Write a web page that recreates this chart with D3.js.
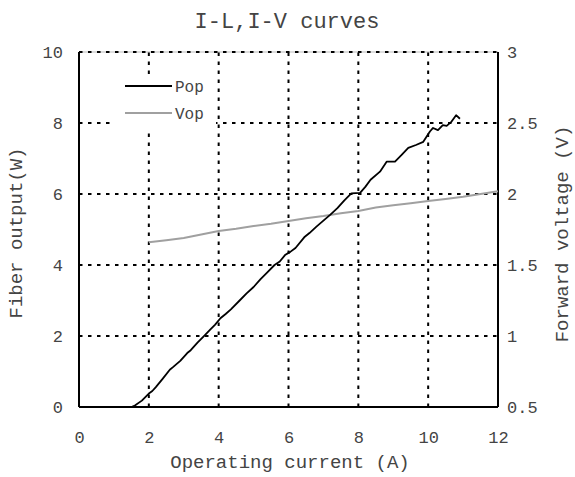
<!DOCTYPE html>
<html>
<head>
<meta charset="utf-8">
<script src="https://cdn.jsdelivr.net/npm/d3@7"></script>
<style>
  body { margin: 0; background: #fff; }
  text { font-family: "Liberation Mono", "Courier New", monospace; fill: #444; }
</style>
</head>
<body>
<div id="chart"></div>
<script>
var width = 575,
    height = 477;

// I-L curve (fiber output, W) vs operating current (A)
var popCurrent = [0, 0.5, 1.0, 1.5, 1.6, 1.8, 2.0, 2.1, 2.2, 2.4, 2.6, 2.7, 2.9, 3.1, 3.2, 3.4, 3.6, 3.75, 3.9, 4.05,
  4.2, 4.35, 4.6, 4.8, 5.0, 5.2, 5.4, 5.6, 5.75, 5.9, 6.05, 6.2, 6.45, 6.6, 6.8, 7.0, 7.2, 7.4, 7.6, 7.8,
  8.05, 8.2, 8.35, 8.62, 8.81, 9.05, 9.24, 9.43, 9.65, 9.86, 10.05, 10.14, 10.28, 10.42, 10.53, 10.67, 10.8, 10.91];
var popPower = [0, 0, 0, 0, 0.04, 0.18, 0.38, 0.45, 0.56, 0.8, 1.05, 1.13, 1.3, 1.52, 1.6, 1.82, 2.02, 2.17, 2.32, 2.5,
  2.62, 2.75, 3.0, 3.2, 3.38, 3.6, 3.8, 4.0, 4.1, 4.28, 4.37, 4.48, 4.78, 4.9, 5.08, 5.25, 5.42, 5.6, 5.82, 6.02,
  6.03, 6.2, 6.4, 6.63, 6.91, 6.91, 7.1, 7.3, 7.38, 7.47, 7.76, 7.86, 7.8, 7.94, 7.92, 8.04, 8.22, 8.12];

// I-V curve (forward voltage, V) vs operating current (A)
var vopCurrent = [2, 2.5, 3, 3.5, 4, 4.5, 5, 5.5, 6, 6.5, 7, 7.5, 8, 8.5, 9, 9.5, 10, 10.5, 11, 11.5, 12];
var vopVoltage = [1.66, 1.675, 1.69, 1.715, 1.74, 1.755, 1.775, 1.79, 1.81, 1.83, 1.845, 1.865, 1.88, 1.905, 1.92,
  1.935, 1.95, 1.965, 1.98, 2.0, 2.02];

var xTicks = [0, 2, 4, 6, 8, 10, 12];
var yLeftTicks = [0, 2, 4, 6, 8, 10];
var yRightTicks = [0.5, 1, 1.5, 2, 2.5, 3];

var svg = d3.select('#chart').append('svg')
    .attr('width', width).attr('height', height);

var x = d3.scaleLinear().domain([0, 12]).range([79, 498]);
var yL = d3.scaleLinear().domain([0, 10]).range([407, 52]);
var yR = d3.scaleLinear().domain([0.5, 3]).range([407, 52]);

// grid
var grid = svg.append('g').attr('class', 'grid');
grid.append('line')
    .attr('x1', x(0)).attr('x2', x(12)).attr('y1', yL(10)).attr('y2', yL(10))
    .attr('stroke', '#bbb').attr('stroke-width', 1);
grid.selectAll('.vgrid').data(xTicks.slice(1, -1)).enter().append('line')
    .attr('class', 'vgrid')
    .attr('x1', d => x(d)).attr('x2', d => x(d))
    .attr('y1', yL(0)).attr('y2', yL(10))
    .attr('stroke', '#000').attr('stroke-width', 2).attr('stroke-dasharray', '3.5,5.5');
grid.selectAll('.hgrid').data(yLeftTicks.slice(1)).enter().append('line')
    .attr('class', 'hgrid')
    .attr('x1', x(0)).attr('x2', x(12))
    .attr('y1', d => yL(d)).attr('y2', d => yL(d))
    .attr('stroke', '#000').attr('stroke-width', 2).attr('stroke-dasharray', '3.5,5.5');

// frame
svg.append('line').attr('x1', x(0)).attr('x2', x(0)).attr('y1', yL(0)).attr('y2', yL(10))
    .attr('stroke', '#000').attr('stroke-width', 2);
svg.append('line').attr('x1', x(12)).attr('x2', x(12)).attr('y1', yL(0)).attr('y2', yL(10))
    .attr('stroke', '#000').attr('stroke-width', 2);
svg.append('line').attr('x1', x(0)).attr('x2', x(12)).attr('y1', yL(0)).attr('y2', yL(0))
    .attr('stroke', '#000').attr('stroke-width', 2);

// axes (labels only)
var xAxis = svg.append('g').attr('transform', 'translate(0,' + 437 + ')')
    .call(d3.axisBottom(x).tickValues(xTicks).tickSize(0).tickPadding(0));
var yAxisL = svg.append('g').attr('transform', 'translate(' + 63 + ',0)')
    .call(d3.axisLeft(yL).tickValues(yLeftTicks).tickSize(0).tickPadding(0));
var yAxisR = svg.append('g').attr('transform', 'translate(' + 507 + ',0)')
    .call(d3.axisRight(yR).tickValues(yRightTicks).tickFormat(d3.format('')).tickSize(0).tickPadding(0));
[xAxis, yAxisL, yAxisR].forEach(function(a) {
  a.attr('font-family', null).attr('font-size', null);
  a.select('.domain').remove();
  a.selectAll('text').attr('font-size', 17).attr('fill', '#444');
});
xAxis.selectAll('text').attr('dy', '0.35em');

// lines
var popData = popCurrent.map((c, i) => [c, popPower[i]]);
var vopData = vopCurrent.map((c, i) => [c, vopVoltage[i]]);

svg.append('path').datum(vopData)
    .attr('fill', 'none').attr('stroke', '#a0a0a0').attr('stroke-width', 2)
    .attr('d', d3.line().x(d => x(d[0])).y(d => yR(d[1])));
svg.append('path').datum(popData)
    .attr('fill', 'none').attr('stroke', '#000').attr('stroke-width', 1.8)
    .attr('stroke-linejoin', 'round')
    .attr('d', d3.line().x(d => x(d[0])).y(d => yL(d[1])));

// legend
var legend = svg.append('g');
legend.append('rect').attr('x', 112).attr('y', 79).attr('width', 104).attr('height', 49).attr('fill', '#fff');
var items = [{label: 'Pop', color: '#000', y: 86}, {label: 'Vop', color: '#a0a0a0', y: 113}];
items.forEach(function(it) {
  legend.append('line').attr('x1', 125).attr('x2', 172).attr('y1', it.y).attr('y2', it.y)
      .attr('stroke', it.color).attr('stroke-width', 2);
  legend.append('text').attr('x', 175).attr('y', it.y).attr('dy', '0.35em')
      .attr('font-size', 16).text(it.label);
});

// titles
svg.append('text').attr('x', 287).attr('y', 28).attr('text-anchor', 'middle')
    .attr('font-size', 22).text('I-L,I-V curves');
svg.append('text').attr('x', 290).attr('y', 468).attr('text-anchor', 'middle')
    .attr('font-size', 19).text('Operating current (A)');
svg.append('text').attr('transform', 'translate(22,233) rotate(-90)').attr('text-anchor', 'middle')
    .attr('font-size', 19).text('Fiber output(W)');
svg.append('text').attr('transform', 'translate(568,234) rotate(-90)').attr('text-anchor', 'middle')
    .attr('font-size', 19).text('Forward voltage (V)');
</script>
</body>
</html>
